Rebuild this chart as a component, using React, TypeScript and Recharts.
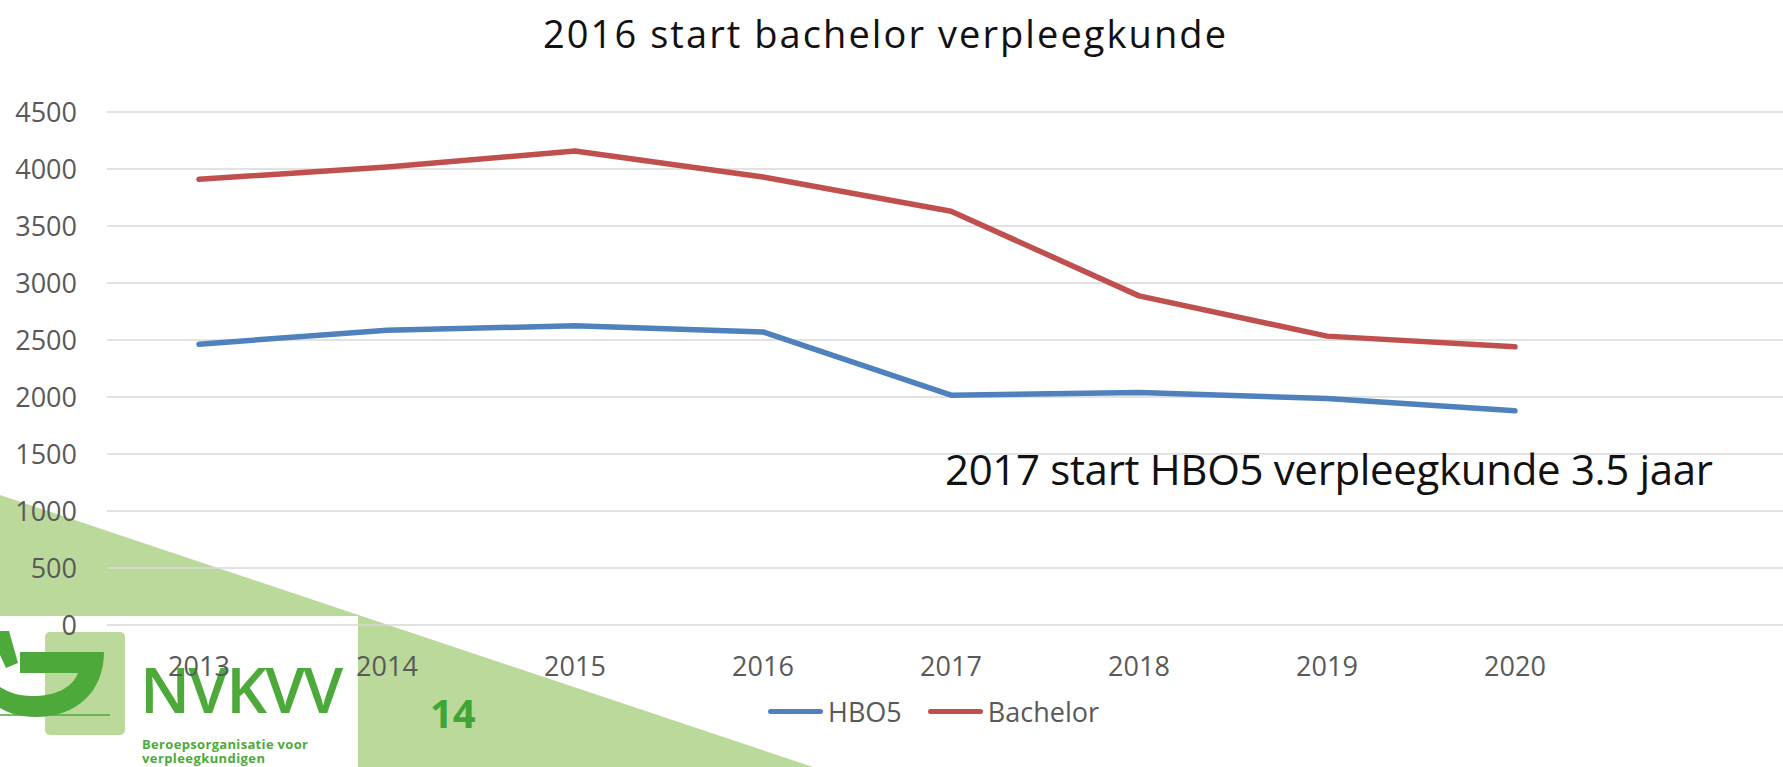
import React from 'react';
import { LineChart, Line, XAxis, YAxis, CartesianGrid, Legend } from 'recharts';

const years = ['2013', '2014', '2015', '2016', '2017', '2018', '2019', '2020'];
const hbo5 = [2463, 2586, 2624, 2571, 2016, 2040, 1987, 1879];
const bachelor = [3910, 4018, 4158, 3930, 3630, 2887, 2534, 2440];
const yTicks = [0, 500, 1000, 1500, 2000, 2500, 3000, 3500, 4000, 4500];
const seriesOrder = ['HBO5', 'Bachelor'];

const title = '2016 start bachelor verpleegkunde';
const note = '2017 start HBO5 verpleegkunde 3.5 jaar';

const data = years.map((year, i) => ({ year, HBO5: hbo5[i], Bachelor: bachelor[i] }));

const FONT = '"Open Sans", "Noto Sans", sans-serif';
const LIGHT_GREEN = '#BAD99B';
const DARK_GREEN = '#4DAA3A';

function LegendRow({ payload }: any) {
  const items = [...(payload || [])].sort(
    (a: any, b: any) => seriesOrder.indexOf(a.value) - seriesOrder.indexOf(b.value)
  );
  return (
    <div style={{ display: 'flex', alignItems: 'center', fontFamily: FONT, fontSize: 27, color: '#595959' }}>
      {items.map((p: any) => (
        <span key={p.value} style={{ display: 'flex', alignItems: 'center', marginRight: 26 }}>
          <span style={{ display: 'inline-block', width: 55, height: 5, borderRadius: 3, background: p.color, marginRight: 5 }} />
          {p.value}
        </span>
      ))}
    </div>
  );
}

// slide decoration behind the chart (green corner + logo)
function Backdrop() {
  return (
    <svg width={1783} height={767} style={{ position: 'absolute', left: 0, top: 0 }}>
      <polygon points="0,495 813,767 0,767" fill={LIGHT_GREEN} />
      <rect x={0} y={616} width={358} height={151} fill="#fff" />
      <rect x={45} y={632} width={80} height={103} rx={5} fill={LIGHT_GREEN} />
      <path
        d="M 20 652 L 104 652 C 104 692 76 717 36 717 C 20 717 8 713 0 708 L 0 687 C 8 692 18 696 32 696 C 56 696 72 688 78 673 L 20 673 Z"
        fill={DARK_GREEN}
      />
      <polygon points="0,631 9,631 18,663 6,668 0,655" fill={DARK_GREEN} />
      <line x1={0} y1={715} x2={110} y2={715} stroke={DARK_GREEN} strokeWidth={1.5} />
      <text x={140} y={713} fontFamily={FONT} fontSize={64} fontWeight={600} fill={DARK_GREEN} textLength={203}>
        NVKVV
      </text>
      <text x={142} y={749} fontFamily={FONT} fontSize={13} fontWeight={700} fill={DARK_GREEN} textLength={166}>
        Beroepsorganisatie voor
      </text>
      <text x={142} y={763} fontFamily={FONT} fontSize={13} fontWeight={700} fill={DARK_GREEN} textLength={123}>
        verpleegkundigen
      </text>
      <text x={430} y={728} fontFamily={FONT} fontSize={40} fontWeight={700} fill="#3FA535">
        14
      </text>
    </svg>
  );
}

export default function App() {
  return (
    <div style={{ position: 'relative', width: 1783, height: 767, overflow: 'hidden', background: '#fff' }}>
      <style>{'body{margin:0}'}</style>
      <Backdrop />
      <div style={{ position: 'absolute', left: 0, top: 0 }}>
        <LineChart width={1783} height={767} data={data} margin={{ top: 112, right: 0, bottom: 112, left: 0 }}>
          <CartesianGrid vertical={false} stroke="#D9D9D9" strokeWidth={1.7} />
          <XAxis
            dataKey="year"
            axisLine={false}
            tickLine={false}
            tickSize={0}
            tickMargin={32}
            height={30}
            padding={{ left: 92, right: 268 }}
            tick={{ fill: '#595959', fontSize: 27, fontFamily: FONT }}
          />
          <YAxis
            width={107}
            domain={[0, 4500]}
            ticks={yTicks}
            axisLine={false}
            tickLine={false}
            tickSize={0}
            tickMargin={30}
            tick={{ fill: '#595959', fontSize: 27, fontFamily: FONT }}
          />
          <Legend
            layout="horizontal"
            verticalAlign="middle"
            align="center"
            wrapperStyle={{ left: 768, top: 693, width: 'auto' }}
            content={<LegendRow />}
          />
          <Line type="linear" dataKey="HBO5" stroke="#4F81BD" strokeWidth={5.5} strokeLinecap="round" strokeLinejoin="round" dot={false} activeDot={false} isAnimationActive={false} />
          <Line type="linear" dataKey="Bachelor" stroke="#C0504D" strokeWidth={5.5} strokeLinecap="round" strokeLinejoin="round" dot={false} activeDot={false} isAnimationActive={false} />
        </LineChart>
      </div>
      <svg width={1783} height={767} style={{ position: 'absolute', left: 0, top: 0, pointerEvents: 'none' }}>
        <text x={543} y={48} fontFamily={FONT} fontSize={38} fill="#111" textLength={683}>
          {title}
        </text>
        <text x={945} y={485} fontFamily={FONT} fontSize={42} fill="#111" textLength={768}>
          {note}
        </text>
      </svg>
    </div>
  );
}
